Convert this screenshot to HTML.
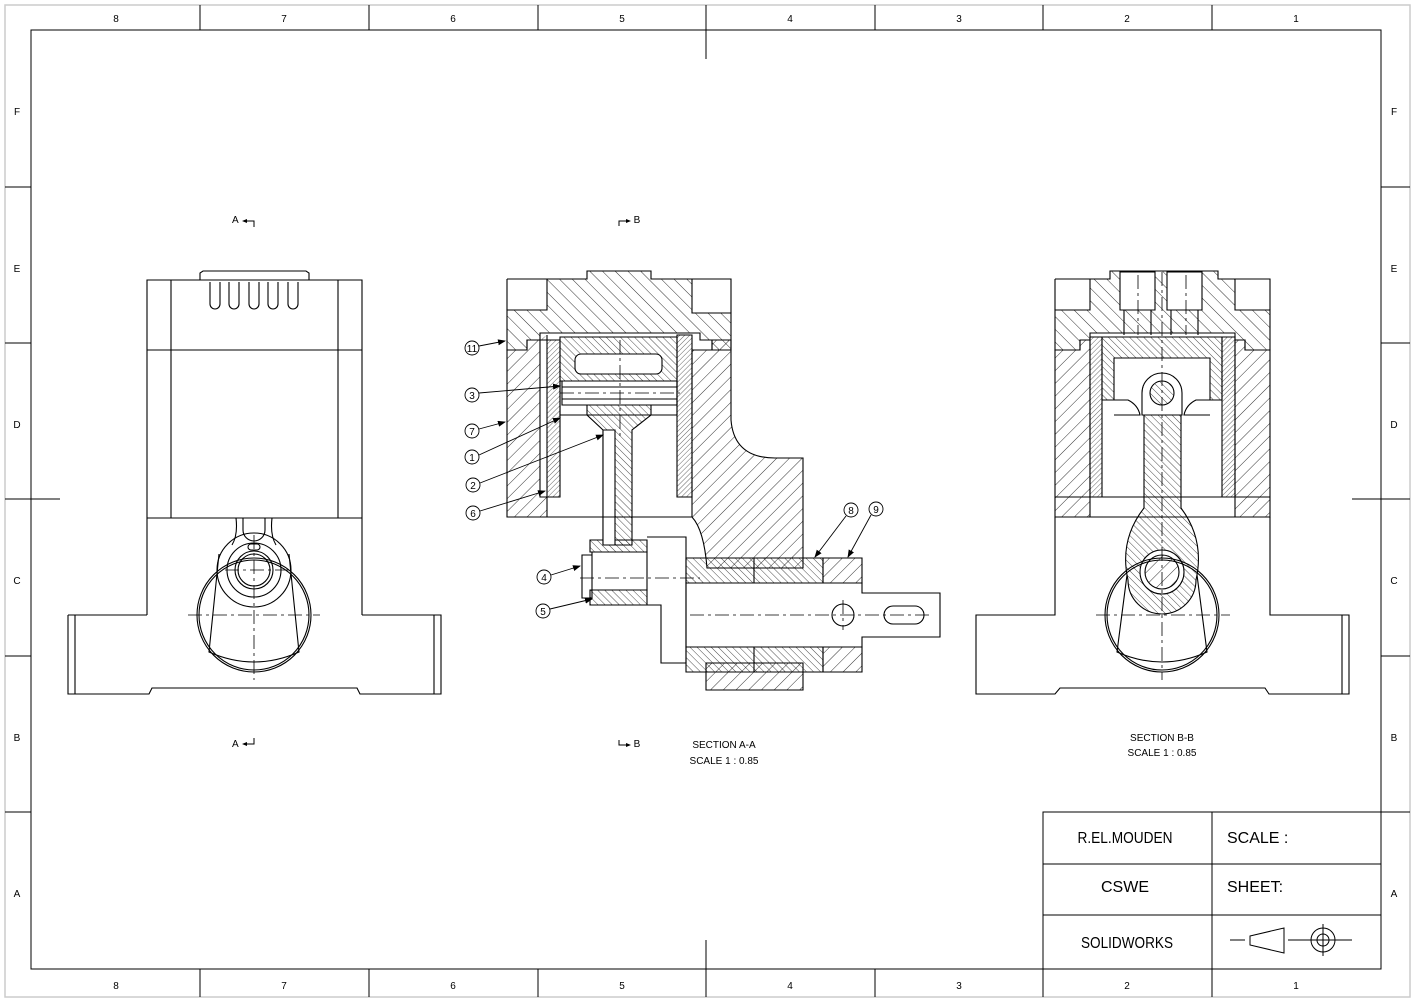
<!DOCTYPE html>
<html><head><meta charset="utf-8"><style>
html,body{margin:0;padding:0;background:#fff}
svg{display:block;font-family:"Liberation Sans",sans-serif}
</style></head><body>
<svg width="1415" height="1002" viewBox="0 0 1415 1002" xmlns="http://www.w3.org/2000/svg">
<defs>
<pattern id="h" patternUnits="userSpaceOnUse" width="9" height="9" patternTransform="rotate(45)"><line x1="0" y1="0" x2="0" y2="9" stroke="#000" stroke-width="0.8"/></pattern>
<pattern id="h2" patternUnits="userSpaceOnUse" width="9" height="9" patternTransform="rotate(-45)"><line x1="0" y1="0" x2="0" y2="9" stroke="#000" stroke-width="0.8"/></pattern>
<pattern id="d" patternUnits="userSpaceOnUse" width="3.5" height="3.5" patternTransform="rotate(45)"><line x1="0" y1="0" x2="0" y2="3.5" stroke="#000" stroke-width="0.6"/></pattern>
<pattern id="m" patternUnits="userSpaceOnUse" width="5" height="5" patternTransform="rotate(-45)"><line x1="0" y1="0" x2="0" y2="5" stroke="#000" stroke-width="0.7"/></pattern>
<marker id="ar" markerWidth="8" markerHeight="6" refX="7" refY="3" orient="auto" markerUnits="userSpaceOnUse"><path d="M0 0L8 3L0 6Z" fill="#000"/></marker>
</defs>
<rect x="0" y="0" width="1415" height="1002" fill="#fff"/>
<rect x="5" y="5" width="1405" height="992" fill="none" stroke="#ccc" stroke-width="1.5"/>
<g stroke="#000" stroke-width="1" fill="none">
<rect x="31" y="30" width="1350" height="939"/>
<path d="M200 5V30M369 5V30M538 5V30M706 5V59M875 5V30M1043 5V30M1212 5V30"/>
<path d="M200 969V997M369 969V997M538 969V997M706 940V997M875 969V997M1043 969V997M1212 969V997"/>
<path d="M5 187H31M5 343H31M5 499H60M5 656H31M5 812H31"/>
<path d="M1381 187H1410M1381 343H1410M1352 499H1410M1381 656H1410M1381 812H1410"/>
</g>
<g font-size="10" text-anchor="middle" fill="#000">
<text x="116" y="22">8</text><text x="284" y="22">7</text><text x="453" y="22">6</text><text x="622" y="22">5</text><text x="790" y="22">4</text><text x="959" y="22">3</text><text x="1127" y="22">2</text><text x="1296" y="22">1</text>
<text x="116" y="989">8</text><text x="284" y="989">7</text><text x="453" y="989">6</text><text x="622" y="989">5</text><text x="790" y="989">4</text><text x="959" y="989">3</text><text x="1127" y="989">2</text><text x="1296" y="989">1</text>
<text x="17" y="115">F</text><text x="17" y="272">E</text><text x="17" y="428">D</text><text x="17" y="584">C</text><text x="17" y="741">B</text><text x="17" y="897">A</text>
<text x="1394" y="115">F</text><text x="1394" y="272">E</text><text x="1394" y="428">D</text><text x="1394" y="584">C</text><text x="1394" y="741">B</text><text x="1394" y="897">A</text>
</g>

<!-- LEFT VIEW -->
<g stroke="#000" stroke-width="1.1" fill="none">
<path d="M147 615V280H362V615"/>
<path d="M147 350H362M147 518H362M171 280V518M338 280V518"/>
<path d="M200 280V273L203 271H306L309 273V280"/>
<path d="M210 282V304a5 5 0 0 0 10 0V282M229 282V304a5 5 0 0 0 10 0V282M249 282V304a5 5 0 0 0 10 0V282M268 282V304a5 5 0 0 0 10 0V282M288 282V304a5 5 0 0 0 10 0V282"/>
<path d="M68 615H147M362 615H441V694H360L357 688H152L149 694H68V615"/>
<path d="M75 615V694M434 615V694"/>
<circle cx="254" cy="615" r="57"/><circle cx="254" cy="615" r="55"/>
<path d="M219 554L209 652Q254 672 299 652L289 554"/>
<circle cx="254" cy="570" r="37"/><circle cx="254" cy="570" r="27"/><circle cx="254" cy="570" r="19"/><circle cx="254" cy="570" r="16"/>
<path d="M236 518Q238 535 232 545M272 518Q270 535 276 545M243 518V530a11 11 0 0 0 22 0V518"/>
<rect x="248" y="544" width="12" height="6" rx="3"/>
</g>
<g stroke="#000" stroke-width="0.8" stroke-dasharray="14 4 3 4" fill="none">
<path d="M188 615H320M254 535V680M225 570H290"/>
</g>
<g font-size="10" fill="#000"><text x="232" y="223">A</text><text x="232" y="747">A</text></g>
<path d="M244 221H254V227M244 744H254V738" stroke="#000" fill="none"/>
<path d="M242 221l5-2v4zM242 744l5-2v4z" fill="#000"/>

<!-- SECTION A-A -->
<g stroke="#000" stroke-width="1.1">
<path fill="url(#h2)" d="M507 310H547V279H587V271H651V279H692V313H731V350H712V340H700V333H540V340H527V350H507Z"/>
<path fill="none" d="M507 279H547M692 279H731V313M507 279V310"/>
<path fill="url(#h)" d="M507 350H527V340H540V497H547V517H507Z"/>
<path fill="url(#h)" d="M692 350H712V340H731V420Q734 458 775 458H803V568H707Q704 530 692 517Z"/>
<path fill="url(#d)" d="M540 340H560V497H547V335"/>
<path fill="url(#d)" d="M677 335H692V497H677Z"/>
<path fill="url(#m)" d="M560 337H677V381H560Z"/>
<rect x="575" y="354" width="87" height="20" rx="6" fill="#fff"/>
<path fill="none" d="M562 381H677V405H562Z M562 387H677M562 399H677"/>
<path fill="url(#m)" d="M587 405H651V415L632 430V545H603V430L587 415Z"/>
<path fill="url(#m)" d="M590 540H647V552H590ZM590 590H647V605H590Z"/>
<path fill="#fff" d="M603 430H615V545H603Z"/>
<path fill="none" d="M560 381V415H677V381M507 517H692"/>
<path fill="none" d="M582 555H592V598H582ZM592 552H647V590H592ZM647 537H686V663H661V605H647"/>
<path fill="url(#m)" d="M686 558H823V583H686ZM686 647H823V672H686Z"/>
<path fill="url(#h)" d="M823 558H862V583H823ZM823 647H862V672H823Z"/>
<path fill="url(#h)" d="M706 663H803V690H706Z"/>
<path fill="none" d="M686 583H862V593H940V637H862V647H686Z"/>
<path fill="none" d="M706 690H803M754 558V583M754 647V672"/>
<circle cx="843" cy="615" r="11" fill="none"/>
<path fill="none" d="M893 606H915a9 9 0 0 1 0 18H893a9 9 0 0 1 0-18"/>
</g>
<g stroke="#000" stroke-width="0.8" stroke-dasharray="14 4 3 4" fill="none">
<path d="M620 340V440M580 578H700M690 615H930M843 600V630M560 393H680"/>
</g>
<g stroke="#000" stroke-width="0.9" fill="none">
<circle cx="472" cy="348" r="7"/><circle cx="472" cy="395" r="7"/><circle cx="472" cy="431" r="7"/><circle cx="472" cy="457" r="7"/><circle cx="473" cy="485" r="7"/><circle cx="473" cy="513" r="7"/><circle cx="544" cy="577" r="7"/><circle cx="543" cy="611" r="7"/><circle cx="851" cy="510" r="7"/><circle cx="876" cy="509" r="7"/>
</g>
<g stroke="#000" stroke-width="0.9" fill="none" marker-end="url(#ar)">
<path d="M479 346L505 341"/><path d="M479 393L560 386"/><path d="M479 429L505 422"/><path d="M479 455L560 418"/><path d="M480 483L603 435"/><path d="M480 511L545 491"/><path d="M551 575L580 566"/><path d="M550 609L592 599"/><path d="M846 516L815 557"/><path d="M871 515L848 557"/>
</g>
<g font-size="10" text-anchor="middle" fill="#000">
<text x="472" y="352">11</text><text x="472" y="399">3</text><text x="472" y="435">7</text><text x="472" y="461">1</text><text x="473" y="489">2</text><text x="473" y="517">6</text><text x="544" y="581">4</text><text x="543" y="615">5</text><text x="851" y="514">8</text><text x="876" y="513">9</text>
<text x="637" y="223">B</text><text x="637" y="747">B</text>
<text x="724" y="748">SECTION A-A</text><text x="724" y="764">SCALE 1 : 0.85</text>
</g>
<path d="M619 226V221H628M619 740V745H628" stroke="#000" fill="none"/>
<path d="M631 221l-5-2v4zM631 745l-5-2v4z" fill="#000"/>

<!-- SECTION B-B -->
<g stroke="#000" stroke-width="1.1">
<path fill="url(#h2)" d="M1055 310H1090V279H1110V271H1218V279H1235V310H1270V350H1245V340H1235V333H1090V340H1080V350H1055Z"/>
<path fill="#fff" d="M1120 272H1155V310H1120ZM1167 272H1202V310H1167Z"/>
<path fill="none" d="M1124 310V335M1151 310V335M1171 310V335M1198 310V335"/>
<path fill="none" d="M1055 279H1090M1235 279H1270V310M1055 279V310"/>
<path fill="url(#h)" d="M1055 350H1080V340H1090V517H1055Z"/>
<path fill="url(#h)" d="M1235 340H1245V350H1270V517H1235Z"/>
<path fill="url(#d)" d="M1090 337H1102V497H1090ZM1222 337H1235V497H1222Z"/>
<path fill="url(#m)" d="M1102 337H1222V400H1210V358H1114V400H1102Z"/>
<path fill="none" d="M1102 400H1128Q1138 405 1140 415H1114M1222 400H1196Q1186 405 1184 415H1210"/>
<path fill="none" d="M1055 497H1270M1055 517H1270"/>
<path fill="url(#m)" d="M1144 415H1181V508Q1205 540 1196 580A34 34 0 0 1 1128 580Q1119 540 1144 508Z"/>
<path fill="#fff" d="M1142 415V393a20 20 0 0 1 40 0V415Z"/>
<circle cx="1162" cy="393" r="12" fill="url(#m)"/>
<circle cx="1162" cy="572" r="22" fill="#fff"/><circle cx="1162" cy="572" r="17" fill="url(#h)"/>
<path fill="none" d="M1055 517V615H976V694H1055L1060 688H1265L1269 694H1349V615H1270V517"/>
<path fill="none" d="M1342 615V694"/>
<circle cx="1162" cy="615" r="57" fill="none"/><circle cx="1162" cy="615" r="55" fill="none"/>
<path fill="none" d="M1127 575L1117 652Q1162 672 1207 652L1197 575"/>
</g>
<g stroke="#000" stroke-width="0.8" stroke-dasharray="14 4 3 4" fill="none">
<path d="M1162 272V680M1096 615H1230M1138 275V335M1186 275V335"/>
</g>
<g font-size="10" text-anchor="middle" fill="#000">
<text x="1162" y="741">SECTION B-B</text><text x="1162" y="756">SCALE 1 : 0.85</text>
</g>

<!-- TITLE BLOCK -->
<g stroke="#000" stroke-width="1" fill="none">
<path d="M1043 969V812H1381M1212 812V969M1043 864H1381M1043 915H1381"/>
<path d="M1250 936L1284 928V953L1250 945ZM1230 940H1245M1288 940H1352"/>
<circle cx="1323" cy="940" r="12"/><circle cx="1323" cy="940" r="6"/><path d="M1323 924V956"/>
</g>
<g font-size="16" fill="#000">
<text x="1125" y="843" text-anchor="middle" textLength="95" lengthAdjust="spacingAndGlyphs">R.EL.MOUDEN</text>
<text x="1125" y="892" text-anchor="middle">CSWE</text>
<text x="1127" y="948" text-anchor="middle" textLength="92" lengthAdjust="spacingAndGlyphs">SOLIDWORKS</text>
<text x="1227" y="843">SCALE :</text>
<text x="1227" y="892">SHEET:</text>
</g>
</svg>
</body></html>
